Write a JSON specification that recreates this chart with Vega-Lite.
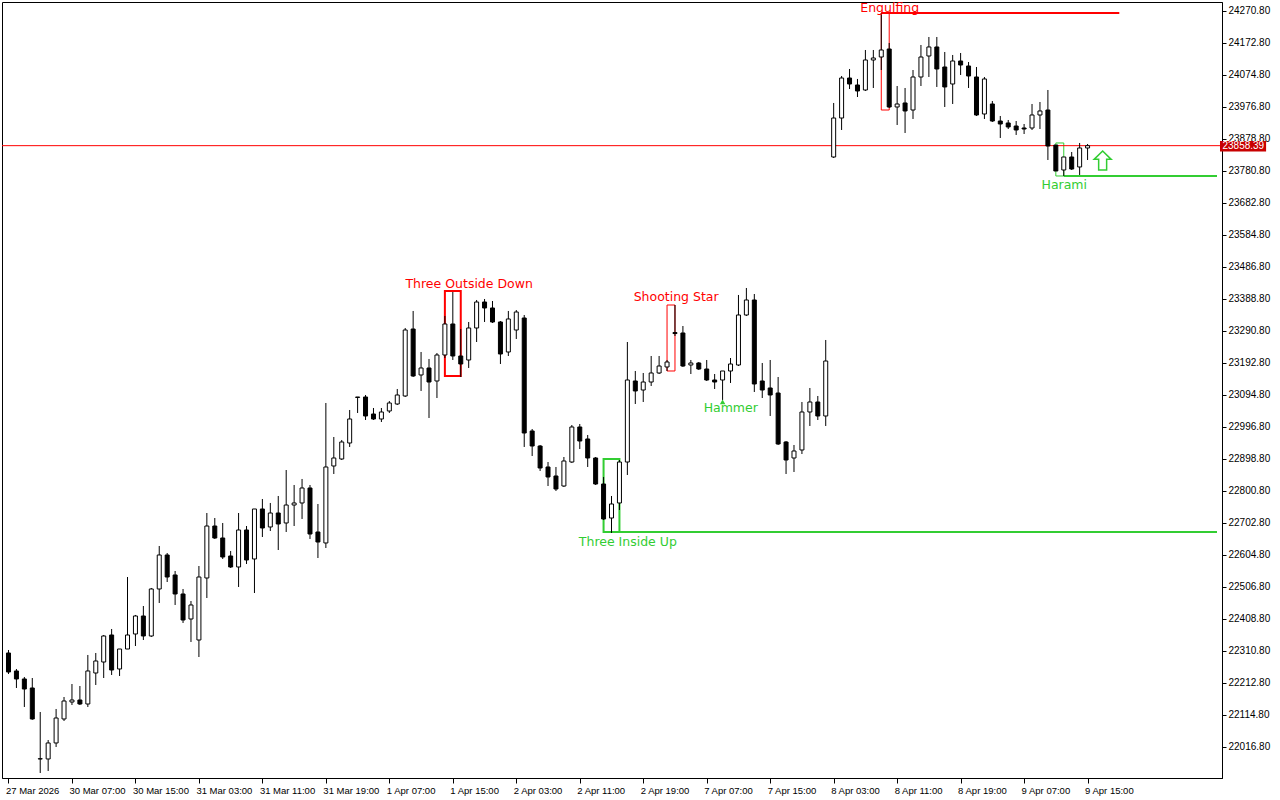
{
"$schema": "https://vega.github.io/schema/vega-lite/v6.json",
"width": 1220, "height": 776,
"autosize": {"type": "none"},
"padding": {"left": 2, "top": 2, "right": 58, "bottom": 22},
"background": "#ffffff",
"config": {"view": {"stroke": "#000000", "strokeWidth": 1},
  "axis": {"grid": false, "domainColor": "#000000", "tickColor": "#000000", "labelColor": "#000000", "labelFont": "Liberation Sans", "labelFontSize": 10, "labelOverlap": false, "labelFlush": false, "labelBound": false},
  "axisX": {"labelFontSize": 9.5, "labelOffset": -3, "tickCount": 40},
  "axisY": {"tickCount": 40}},
"datasets": {
"candles": [
{"i":0,"o":22304.7,"h":22313.9,"l":22240.4,"c":22246.5},
{"i":1,"o":22249.6,"h":22255.7,"l":22197.5,"c":22225.1},
{"i":2,"o":22225.1,"h":22231.2,"l":22139.3,"c":22194.4},
{"i":3,"o":22197.5,"h":22228.1,"l":22100.0,"c":22102.6},
{"i":4,"o":21980.1,"h":22124.0,"l":21937.2,"c":21981.0},
{"i":5,"o":21980.1,"h":22038.2,"l":21943.3,"c":22029.1},
{"i":6,"o":22029.1,"h":22133.2,"l":22016.8,"c":22105.6},
{"i":7,"o":22102.6,"h":22169.9,"l":22096.4,"c":22157.7},
{"i":8,"o":22154.6,"h":22209.7,"l":22145.4,"c":22160.7},
{"i":9,"o":22160.7,"h":22203.6,"l":22145.4,"c":22148.5},
{"i":10,"o":22148.5,"h":22298.6,"l":22139.3,"c":22249.6},
{"i":11,"o":22243.4,"h":22304.7,"l":22206.7,"c":22280.2},
{"i":12,"o":22277.1,"h":22359.8,"l":22228.1,"c":22356.75},
{"i":13,"o":22359.8,"h":22378.2,"l":22237.3,"c":22252.6},
{"i":14,"o":22255.7,"h":22316.9,"l":22234.25,"c":22316.9},
{"i":15,"o":22316.9,"h":22537.4,"l":22316.9,"c":22359.8},
{"i":16,"o":22362.9,"h":22421.1,"l":22326.1,"c":22418.0},
{"i":17,"o":22418.0,"h":22448.6,"l":22344.5,"c":22356.75},
{"i":18,"o":22356.75,"h":22503.75,"l":22353.7,"c":22500.7},
{"i":19,"o":22500.7,"h":22632.4,"l":22457.8,"c":22604.8},
{"i":20,"o":22604.8,"h":22610.9,"l":22522.1,"c":22537.4},
{"i":21,"o":22543.6,"h":22555.8,"l":22451.7,"c":22485.4},
{"i":22,"o":22485.4,"h":22500.7,"l":22396.6,"c":22405.75},
{"i":23,"o":22408.8,"h":22463.9,"l":22338.4,"c":22451.7},
{"i":24,"o":22344.5,"h":22571.1,"l":22292.4,"c":22537.4},
{"i":25,"o":22534.4,"h":22733.4,"l":22473.1,"c":22693.6},
{"i":26,"o":22693.6,"h":22718.1,"l":22653.8,"c":22656.9},
{"i":27,"o":22656.9,"h":22702.8,"l":22592.6,"c":22598.7},
{"i":28,"o":22601.75,"h":22617.1,"l":22565.0,"c":22568.1},
{"i":29,"o":22568.1,"h":22733.4,"l":22506.8,"c":22681.4},
{"i":30,"o":22681.4,"h":22693.6,"l":22577.25,"c":22589.5},
{"i":31,"o":22592.6,"h":22745.7,"l":22488.4,"c":22745.7},
{"i":32,"o":22745.7,"h":22776.3,"l":22659.9,"c":22687.5},
{"i":33,"o":22690.6,"h":22764.1,"l":22678.3,"c":22733.4},
{"i":34,"o":22733.4,"h":22785.5,"l":22620.1,"c":22699.75},
{"i":35,"o":22702.8,"h":22865.1,"l":22675.25,"c":22757.9},
{"i":36,"o":22757.9,"h":22819.2,"l":22693.6,"c":22764.1},
{"i":37,"o":22764.1,"h":22837.6,"l":22715.1,"c":22810.0},
{"i":38,"o":22810.0,"h":22819.2,"l":22653.8,"c":22669.1},
{"i":39,"o":22675.25,"h":22761.0,"l":22595.6,"c":22644.6},
{"i":40,"o":22641.6,"h":23070.3,"l":22626.25,"c":22874.3},
{"i":41,"o":22877.4,"h":22966.2,"l":22852.9,"c":22901.9},
{"i":42,"o":22898.8,"h":22957.0,"l":22895.75,"c":22950.9},
{"i":43,"o":22947.8,"h":23048.9,"l":22935.6,"c":23021.3},
{"i":44,"o":23087.2,"h":23088.7,"l":23039.7,"c":23088.7},
{"i":45,"o":23088.7,"h":23094.8,"l":23018.25,"c":23030.5},
{"i":46,"o":23036.6,"h":23055.0,"l":23018.25,"c":23021.3},
{"i":47,"o":23021.3,"h":23055.0,"l":23012.1,"c":23042.75},
{"i":48,"o":23045.8,"h":23076.4,"l":23039.7,"c":23070.3},
{"i":49,"o":23067.25,"h":23113.2,"l":23064.2,"c":23094.8},
{"i":50,"o":23091.75,"h":23300.0,"l":23088.7,"c":23293.9},
{"i":51,"o":23296.9,"h":23352.1,"l":23149.9,"c":23153.0},
{"i":52,"o":23156.1,"h":23226.5,"l":23107.1,"c":23177.5},
{"i":53,"o":23177.5,"h":23205.1,"l":23024.4,"c":23134.6},
{"i":54,"o":23137.7,"h":23223.4,"l":23085.6,"c":23217.3},
{"i":55,"o":23217.3,"h":23336.75,"l":23208.1,"c":23312.25},
{"i":56,"o":23312.25,"h":23410.25,"l":23202.0,"c":23214.25},
{"i":57,"o":23214.25,"h":23296.9,"l":23149.9,"c":23189.75},
{"i":58,"o":23202.0,"h":23318.4,"l":23177.5,"c":23300.0},
{"i":59,"o":23300.0,"h":23385.75,"l":23257.1,"c":23379.6},
{"i":60,"o":23379.6,"h":23388.8,"l":23318.4,"c":23361.25},
{"i":61,"o":23361.25,"h":23382.7,"l":23315.3,"c":23318.4},
{"i":62,"o":23318.4,"h":23321.4,"l":23189.75,"c":23220.4},
{"i":63,"o":23226.5,"h":23352.1,"l":23214.25,"c":23327.6},
{"i":64,"o":23293.9,"h":23355.1,"l":23266.3,"c":23349.0},
{"i":65,"o":23330.6,"h":23339.8,"l":22935.6,"c":22978.4},
{"i":66,"o":22984.6,"h":22990.7,"l":22908.0,"c":22938.6},
{"i":67,"o":22938.6,"h":22941.7,"l":22862.1,"c":22871.25},
{"i":68,"o":22874.3,"h":22889.6,"l":22816.1,"c":22843.7},
{"i":69,"o":22846.75,"h":22874.3,"l":22800.8,"c":22806.9},
{"i":70,"o":22816.1,"h":22904.9,"l":22813.1,"c":22892.7},
{"i":71,"o":22889.6,"h":23002.9,"l":22886.6,"c":22996.8},
{"i":72,"o":22996.8,"h":23006.0,"l":22929.4,"c":22953.9},
{"i":73,"o":22960.1,"h":22972.3,"l":22874.3,"c":22901.9},
{"i":74,"o":22901.9,"h":22904.9,"l":22819.2,"c":22822.25},
{"i":75,"o":22822.25,"h":22843.7,"l":22712.0,"c":22715.1},
{"i":76,"o":22718.1,"h":22785.5,"l":22672.2,"c":22761.0},
{"i":77,"o":22764.1,"h":22895.75,"l":22742.6,"c":22889.6},
{"i":78,"o":22889.6,"h":23257.1,"l":22849.8,"c":23140.75},
{"i":79,"o":23137.7,"h":23168.3,"l":23067.25,"c":23107.1},
{"i":80,"o":23110.1,"h":23162.2,"l":23073.4,"c":23134.6},
{"i":81,"o":23134.6,"h":23214.25,"l":23122.4,"c":23162.2},
{"i":82,"o":23162.2,"h":23214.25,"l":23159.1,"c":23183.6},
{"i":83,"o":23180.6,"h":23202.0,"l":23168.3,"c":23195.9},
{"i":84,"o":23286.0,"h":23370.4,"l":23275.5,"c":23283.0},
{"i":85,"o":23284.7,"h":23306.1,"l":23180.6,"c":23183.6},
{"i":86,"o":23186.7,"h":23202.0,"l":23159.1,"c":23192.8},
{"i":87,"o":23192.8,"h":23195.9,"l":23171.4,"c":23174.4},
{"i":88,"o":23174.4,"h":23202.0,"l":23137.7,"c":23140.75},
{"i":89,"o":23140.75,"h":23159.1,"l":23113.2,"c":23134.6},
{"i":90,"o":23140.75,"h":23168.3,"l":23079.5,"c":23168.3},
{"i":91,"o":23168.3,"h":23208.1,"l":23131.6,"c":23189.75},
{"i":92,"o":23186.7,"h":23401.1,"l":23183.6,"c":23339.8},
{"i":93,"o":23339.8,"h":23422.5,"l":23336.75,"c":23385.75},
{"i":94,"o":23385.75,"h":23404.1,"l":23104.0,"c":23128.5},
{"i":95,"o":23137.7,"h":23192.8,"l":23085.6,"c":23110.1},
{"i":96,"o":23116.25,"h":23202.0,"l":23030.5,"c":23094.8},
{"i":97,"o":23100.9,"h":23149.9,"l":22941.7,"c":22944.75},
{"i":98,"o":22950.9,"h":22953.9,"l":22852.9,"c":22895.75},
{"i":99,"o":22901.9,"h":22941.7,"l":22859.0,"c":22923.3},
{"i":100,"o":22926.4,"h":23073.4,"l":22914.1,"c":23042.75},
{"i":101,"o":23042.75,"h":23116.25,"l":22999.9,"c":23073.4},
{"i":102,"o":23073.4,"h":23091.75,"l":23018.25,"c":23030.5},
{"i":103,"o":23030.5,"h":23263.25,"l":22999.9,"c":23198.9},
{"i":104,"o":23823.7,"h":23989.1,"l":23820.6,"c":23943.1},
{"i":105,"o":23943.1,"h":24071.75,"l":23906.4,"c":24065.6},
{"i":106,"o":24065.6,"h":24093.2,"l":24031.9,"c":24047.25},
{"i":107,"o":24044.2,"h":24062.6,"l":24007.4,"c":24025.8},
{"i":108,"o":24028.9,"h":24151.4,"l":24025.8,"c":24120.75},
{"i":109,"o":24120.75,"h":24151.4,"l":24035.0,"c":24126.9},
{"i":110,"o":24129.9,"h":24264.7,"l":24090.1,"c":24151.4},
{"i":111,"o":24154.4,"h":24172.8,"l":23973.75,"c":23976.8},
{"i":112,"o":23976.8,"h":24041.1,"l":23921.7,"c":23986.0},
{"i":113,"o":23989.1,"h":24035.0,"l":23897.2,"c":23964.6},
{"i":114,"o":23967.6,"h":24090.1,"l":23940.1,"c":24068.7},
{"i":115,"o":24068.7,"h":24166.7,"l":24041.1,"c":24129.9},
{"i":116,"o":24133.0,"h":24191.2,"l":24068.7,"c":24160.6},
{"i":117,"o":24160.6,"h":24191.2,"l":24038.1,"c":24093.2},
{"i":118,"o":24099.3,"h":24145.25,"l":23976.8,"c":24038.1},
{"i":119,"o":24047.25,"h":24136.1,"l":23986.0,"c":24117.7},
{"i":120,"o":24117.7,"h":24142.2,"l":24074.8,"c":24105.4},
{"i":121,"o":24102.4,"h":24114.6,"l":24035.0,"c":24071.75},
{"i":122,"o":24068.7,"h":24099.3,"l":23949.25,"c":23952.3},
{"i":123,"o":23955.4,"h":24068.7,"l":23940.1,"c":24062.6},
{"i":124,"o":23986.0,"h":23995.2,"l":23930.9,"c":23933.9},
{"i":125,"o":23933.9,"h":23949.25,"l":23881.9,"c":23924.75},
{"i":126,"o":23927.8,"h":23937.0,"l":23909.4,"c":23915.6},
{"i":127,"o":23918.6,"h":23933.9,"l":23891.1,"c":23906.4},
{"i":128,"o":23912.5,"h":23924.75,"l":23894.1,"c":23909.4},
{"i":129,"o":23912.5,"h":23986.0,"l":23906.4,"c":23952.3},
{"i":130,"o":23952.3,"h":23992.1,"l":23909.4,"c":23964.6},
{"i":131,"o":23967.6,"h":24028.9,"l":23814.5,"c":23857.4},
{"i":132,"o":23860.4,"h":23860.4,"l":23780.8,"c":23780.8},
{"i":133,"o":23783.9,"h":23823.7,"l":23765.5,"c":23823.7},
{"i":134,"o":23823.7,"h":23839.0,"l":23783.9,"c":23786.9},
{"i":135,"o":23793.1,"h":23866.6,"l":23768.6,"c":23851.25},
{"i":136,"o":23851.25,"h":23863.5,"l":23814.5,"c":23858.39}
],
"patterns": [
{"name":"Three Outside Down","dir":"bear","bars":3,"x1":55,"x2":57,"top":23413.3,"bottom":23153.0},
{"name":"Shooting Star","dir":"bear","bars":2,"x1":83,"x2":84,"top":23370.4,"bottom":23168.3},
{"name":"Engulfing","dir":"bear","bars":2,"x1":110,"x2":111,"top":24264.7,"bottom":23967.6},
{"name":"Harami","dir":"bull","bars":2,"x1":132,"x2":133,"top":23866.6,"bottom":23765.5},
{"name":"Three Inside Up","dir":"bull","bars":3,"x1":75,"x2":77,"top":22898.8,"bottom":22675.25}
],
"plines": [
{"dir":"bear","x1":110,"x2":140,"y":24264.7},
{"dir":"bull","x1":77,"x2":152.3125,"y":22675.25},
{"dir":"bull","x1":133,"x2":152.3125,"y":23765.5}
],
"labels": [
{"text":"Three Outside Down","dir":"bear","i":58.06,"p":23422.5},
{"text":"Shooting Star","dir":"bear","i":84.15,"p":23382.7},
{"text":"Engulfing","dir":"bear","i":111.06,"p":24268.0},
{"text":"Harami","dir":"bull","i":133.06,"p":23725.7},
{"text":"Three Inside Up","dir":"bull","i":78.06,"p":22632.4},
{"text":"Hammer","dir":"bull","i":91.03,"p":23042.75}
],
"hammer": [{"i":90,"p":23073.4}],
"arrow": [{"i":137.9,"p":23813.0}],
"price": [{"p":23858.39,"label":"23858.39","x1":152.69,"x2":158.5,"top":23872.7,"bottom":23840.5,"tx":153.0}]
},
"layer": [
{"data":{"name":"patterns"},
 "mark":{"type":"rect","filled":false},
 "encoding":{
  "x":{"field":"x1","type":"quantitative","scale":{"domain":[-0.1875,152.3125],"nice":false,"zero":false},
    "axis":{"values":[0,8,16,24,32,40,48,56,64,72,80,88,96,104,112,120,128,136],
      "labelExpr":"['27 Mar 2026','30 Mar 07:00','30 Mar 15:00','31 Mar 03:00','31 Mar 11:00','31 Mar 19:00','1 Apr 07:00','1 Apr 15:00','2 Apr 03:00','2 Apr 11:00','2 Apr 19:00','7 Apr 07:00','7 Apr 15:00','8 Apr 03:00','8 Apr 11:00','8 Apr 19:00','9 Apr 07:00','9 Apr 15:00'][round(datum.value/8)]",
      "tickCount":40,"tickSize":5,"labelAlign":"left","labelBaseline":"top","labelPadding":2,"labelFlush":false,"labelOverlap":false,"labelBound":false,"title":null}},
  "x2":{"field":"x2"},
  "y":{"field":"top","type":"quantitative","scale":{"domain":[21921.86,24298.36],"nice":false,"zero":false},
    "axis":{"orient":"right","values":[22016.8,22114.8,22212.8,22310.8,22408.8,22506.8,22604.8,22702.8,22800.8,22898.8,22996.8,23094.8,23192.8,23290.8,23388.8,23486.8,23584.8,23682.8,23780.8,23878.8,23976.8,24074.8,24172.8,24270.8],
      "tickCount":40,"format":".2f","tickSize":4,"labelPadding":2,"labelOverlap":false,"labelFlush":false,"labelBound":false,"title":null}},
  "y2":{"field":"bottom"},
  "color":{"field":"dir","type":"nominal","scale":{"domain":["bear","bull"],"range":["#ff0000","#32cd32"]},"legend":null},
  "strokeWidth":{"field":"bars","type":"quantitative","scale":{"domain":[2,3],"range":[1,2]},"legend":null}
 }},
{"data":{"name":"plines"},
 "mark":{"type":"rule","strokeWidth":2},
 "encoding":{
  "x":{"field":"x1","type":"quantitative","axis":{"title":null,"labelOverlap":false,"tickCount":40}},
  "x2":{"field":"x2"},
  "y":{"field":"y","type":"quantitative","axis":{"orient":"right","title":null,"labelOverlap":false,"tickCount":40}},
  "color":{"field":"dir","type":"nominal","scale":{"domain":["bear","bull"],"range":["#ff0000","#32cd32"]},"legend":null}
 }},
{"data":{"name":"price"},
 "mark":{"type":"rule","color":"#ff0000","strokeWidth":1},
 "encoding":{
  "y":{"field":"p","type":"quantitative","axis":{"orient":"right","title":null,"labelOverlap":false,"tickCount":40}}
 }},
{"data":{"name":"candles"},
 "mark":{"type":"rule","color":"#000000","strokeWidth":1},
 "encoding":{
  "x":{"field":"i","type":"quantitative","axis":{"title":null,"labelOverlap":false,"tickCount":40}},
  "y":{"field":"l","type":"quantitative","axis":{"orient":"right","title":null,"labelOverlap":false,"tickCount":40}},
  "y2":{"field":"h"}
 }},
{"data":{"name":"candles"},
 "mark":{"type":"bar","size":4,"stroke":"#000000","strokeWidth":1},
 "encoding":{
  "x":{"field":"i","type":"quantitative","axis":{"title":null,"labelOverlap":false,"tickCount":40}},
  "y":{"field":"o","type":"quantitative","axis":{"orient":"right","title":null,"labelOverlap":false,"tickCount":40}},
  "y2":{"field":"c"},
  "fill":{"condition":{"test":"datum.c >= datum.o","value":"#ffffff"},"value":"#000000"}
 }},
{"data":{"name":"labels"},
 "mark":{"type":"text","font":"DejaVu Sans","fontSize":12.5,"align":"center","baseline":"alphabetic"},
 "encoding":{
  "x":{"field":"i","type":"quantitative","axis":{"title":null,"labelOverlap":false,"tickCount":40}},
  "y":{"field":"p","type":"quantitative","axis":{"orient":"right","title":null,"labelOverlap":false,"tickCount":40}},
  "text":{"field":"text"},
  "color":{"field":"dir","type":"nominal","scale":{"domain":["bear","bull"],"range":["#ff0000","#32cd32"]},"legend":null}
 }},
{"data":{"name":"hammer"},
 "mark":{"type":"point","shape":"triangle-up","filled":true,"size":30,"color":"#32cd32","opacity":1},
 "encoding":{
  "x":{"field":"i","type":"quantitative","axis":{"title":null,"labelOverlap":false,"tickCount":40}},
  "y":{"field":"p","type":"quantitative","axis":{"orient":"right","title":null,"labelOverlap":false,"tickCount":40}}
 }},
{"data":{"name":"arrow"},
 "mark":{"type":"point","shape":"M0,-1L0.9,-0.12L0.42,-0.12L0.42,1L-0.42,1L-0.42,-0.12L-0.9,-0.12Z","filled":false,"size":361,"stroke":"#32cd32","strokeWidth":1.5,"opacity":1},
 "encoding":{
  "x":{"field":"i","type":"quantitative","axis":{"title":null,"labelOverlap":false,"tickCount":40}},
  "y":{"field":"p","type":"quantitative","axis":{"orient":"right","title":null,"labelOverlap":false,"tickCount":40}}
 }},
{"data":{"name":"price"},
 "mark":{"type":"rect","color":"#c80000"},
 "encoding":{
  "x":{"field":"x1","type":"quantitative","axis":{"title":null,"labelOverlap":false,"tickCount":40}},
  "x2":{"field":"x2"},
  "y":{"field":"top","type":"quantitative","axis":{"orient":"right","title":null,"labelOverlap":false,"tickCount":40}},
  "y2":{"field":"bottom"}
 }},
{"data":{"name":"price"},
 "mark":{"type":"text","color":"#ffffff","font":"Liberation Sans","fontSize":10,"align":"left","baseline":"middle"},
 "encoding":{
  "x":{"field":"tx","type":"quantitative","axis":{"title":null,"labelOverlap":false,"tickCount":40}},
  "y":{"field":"p","type":"quantitative","axis":{"orient":"right","title":null,"labelOverlap":false,"tickCount":40}},
  "text":{"field":"label"}
 }}
]
}
